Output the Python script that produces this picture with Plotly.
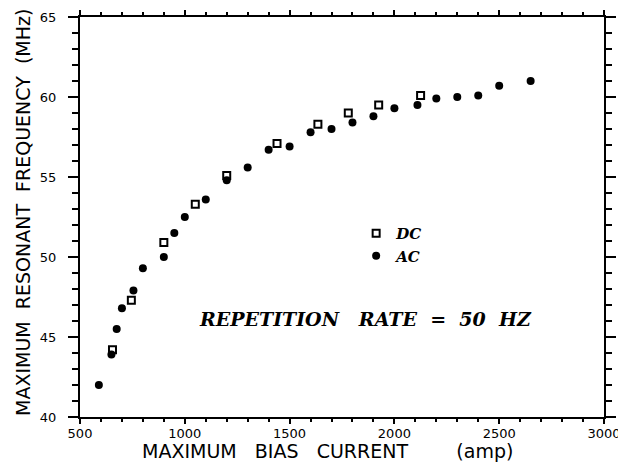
import plotly.graph_objects as go

# Data
dc_current = [655, 745, 900, 1050, 1200, 1440, 1635, 1780, 1925, 2125]
dc_freq = [44.2, 47.3, 50.9, 53.3, 55.1, 57.1, 58.3, 59.0, 59.5, 60.1]

ac_current = [590, 650, 675, 700, 755, 800, 900, 950, 1000, 1100, 1200, 1300,
              1400, 1500, 1600, 1700, 1800, 1900, 2000, 2110, 2200, 2300,
              2400, 2500, 2650]
ac_freq = [42.0, 43.9, 45.5, 46.8, 47.9, 49.3, 50.0, 51.5, 52.5, 53.6, 54.8, 55.6,
           56.7, 56.9, 57.8, 58.0, 58.4, 58.8, 59.3, 59.5, 59.9, 60.0,
           60.1, 60.7, 61.0]

x_ticks = [500, 1000, 1500, 2000, 2500, 3000]
y_ticks = [40, 45, 50, 55, 60, 65]

# page has an 8px body margin, so the figure is offset to compensate
OFF = 8
W, H = 626 - OFF, 470 - OFF
L, T = 80 - OFF, 17 - OFF
PW, PH = 524, 400
R, B = W - L - PW, H - T - PH


def px_x(px):  # page pixel -> paper x
    return (px - OFF - L) / PW


def px_y(py):  # page pixel -> paper y
    return ((H - B) - (py - OFF)) / PH


fig = go.Figure()
fig.add_trace(go.Scatter(
    x=dc_current, y=dc_freq, mode="markers", name="DC",
    marker=dict(symbol="square-open", size=7, color="black",
                line=dict(width=2, color="black"))))
fig.add_trace(go.Scatter(
    x=ac_current, y=ac_freq, mode="markers", name="AC",
    marker=dict(symbol="circle", size=8, color="black")))

serif_bi = dict(family="DejaVu Serif", color="black", weight="bold", style="italic")

fig.add_annotation(x=px_x(365), y=px_y(319), xanchor="center", yanchor="middle",
                   text="REPETITION   RATE  =  50  HZ",
                   showarrow=False, xref="paper", yref="paper",
                   font=dict(size=19, **serif_bi))

# axis titles as annotations positioned like the reference
fig.add_annotation(x=px_x(327), y=px_y(451), xanchor="center", yanchor="middle",
                   xref="paper", yref="paper", showarrow=False,
                   text="MAXIMUM   BIAS   CURRENT        (amp)",
                   font=dict(family="DejaVu Sans", size=19, color="black"))
fig.add_annotation(x=px_x(23), y=px_y(213), xanchor="center", yanchor="middle",
                   xref="paper", yref="paper", showarrow=False, textangle=-90,
                   text="MAXIMUM  RESONANT  FREQUENCY  (MHz)",
                   font=dict(family="DejaVu Sans", size=19, color="black"))

axis_common = dict(showline=True, linecolor="black", linewidth=2, mirror="allticks",
                   ticks="outside", tickcolor="black", tickwidth=1.5,
                   showgrid=False, zeroline=False, automargin=False,
                   ticklabeloverflow="allow",
                   tickfont=dict(family="DejaVu Sans", size=13, color="black"))

fig.update_xaxes(range=[500, 3000], tickvals=x_ticks, ticklen=5, ticklabelstandoff=-2,
                 minor=dict(dtick=100, ticklen=3, ticks="outside", tickcolor="black",
                            showgrid=False),
                 **axis_common)
fig.update_yaxes(range=[40, 65], tickvals=y_ticks, ticklen=10, ticklabelstandoff=9,
                 minor=dict(dtick=1, ticklen=6, ticks="outside", tickcolor="black",
                            showgrid=False),
                 **axis_common)

fig.update_layout(
    width=W, height=H,
    margin=dict(l=L, r=R, t=T, b=B),
    paper_bgcolor="white", plot_bgcolor="white",
    showlegend=True,
    legend=dict(x=0.527, y=0.50, xanchor="left", yanchor="top",
                bgcolor="rgba(0,0,0,0)", tracegroupgap=0,
                font=dict(size=15, **serif_bi)),
)

fig.write_html("out.html")
